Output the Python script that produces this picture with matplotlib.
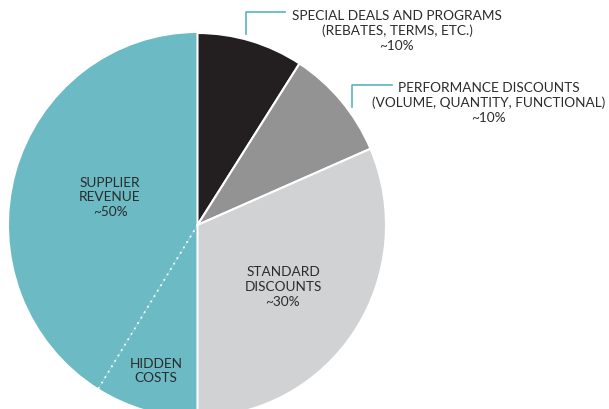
import matplotlib
matplotlib.use("Agg")
import matplotlib.pyplot as plt
import numpy as np

# Data (percent of pie)
categories = ["Special deals and programs", "Performance discounts", "Standard discounts",
              "Hidden costs", "Supplier revenue"]
values = [9.1, 9.4, 31.5, 8.8, 41.2]
colors = ["#231F20", "#939393", "#D1D2D4", "#6CBAC4", "#6CBAC4"]

labels_text = {
    "special": "SPECIAL DEALS AND PROGRAMS\n(REBATES, TERMS, ETC.)\n~10%",
    "perf": "PERFORMANCE DISCOUNTS\n(VOLUME, QUANTITY, FUNCTIONAL)\n~10%",
    "standard": "STANDARD\nDISCOUNTS\n~30%",
    "supplier": "SUPPLIER\nREVENUE\n~50%",
    "hidden": "HIDDEN\nCOSTS",
}

W, H = 609, 409
fig = plt.figure(figsize=(W / 100, H / 100), dpi=100)
fig.patch.set_facecolor("white")

cx, cy, rx, ry = 197.5, 225, 188.5, 192
ax = fig.add_axes([(cx - rx) / W, (H - cy - ry) / H, 2 * rx / W, 2 * ry / H])

wedges, _ = ax.pie(values, colors=colors, startangle=90, counterclock=False, radius=1,
                   wedgeprops=dict(edgecolor="white", linewidth=1.5))
ax.set_xlim(-1, 1)
ax.set_ylim(-1, 1)
ax.set_aspect("auto")
ax.axis("off")
wedges[3].set_linewidth(0)
wedges[4].set_linewidth(0)
wedges[3].set_zorder(0)
wedges[4].set_zorder(0)

# dotted boundary between hidden costs and supplier revenue
th = np.deg2rad(wedges[3].theta1)
ax.plot([0, np.cos(th)], [0, np.sin(th)], color="white", linestyle=(0, (1, 2.5)),
        linewidth=1.3, zorder=3)

font = "Lato"
tc = "#2B2B2B"
fs = 9.8

def fx(x):
    return x / W

def fy(y):
    return 1 - y / H

fig.text(fx(397), fy(31), labels_text["special"], ha="center", va="center", fontsize=fs,
         family=font, color=tc, linespacing=1.25)
fig.text(fx(489), fy(103), labels_text["perf"], ha="center", va="center", fontsize=fs,
         family=font, color=tc, linespacing=1.25)
fig.text(fx(283), fy(287), labels_text["standard"], ha="center", va="center", fontsize=fs,
         family=font, color=tc, linespacing=1.25)
fig.text(fx(110), fy(197), labels_text["supplier"], ha="center", va="center", fontsize=fs,
         family=font, color=tc, linespacing=1.25)
fig.text(fx(156), fy(371), labels_text["hidden"], ha="center", va="center", fontsize=fs,
         family=font, color=tc, linespacing=1.25)

lc = "#5AB4BE"
fig.add_artist(plt.Line2D([fx(246), fx(246), fx(285)], [fy(34), fy(12), fy(12)],
                          color=lc, linewidth=1.2))
fig.add_artist(plt.Line2D([fx(352), fx(352), fx(392)], [fy(107), fy(85), fy(85)],
                          color=lc, linewidth=1.2))

fig.savefig("out.png", dpi=100, facecolor="white")
